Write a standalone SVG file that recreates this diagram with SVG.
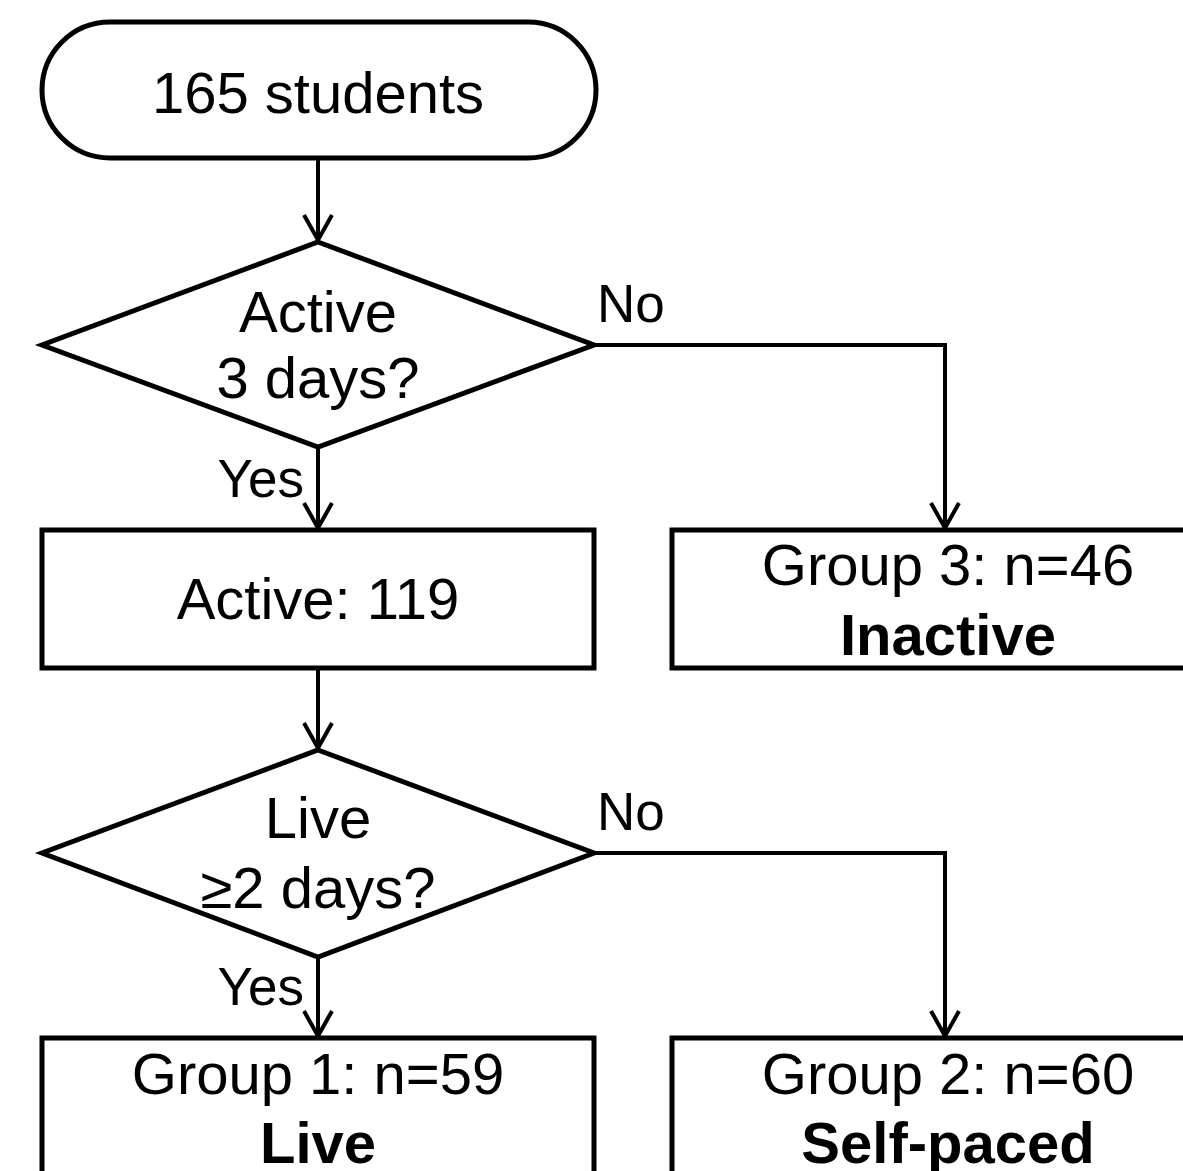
<svg xmlns="http://www.w3.org/2000/svg" width="1183" height="1171" viewBox="0 0 1183 1171">
  <style>
    .shape { fill: #ffffff; stroke: #000000; stroke-width: 5; }
    .conn { fill: none; stroke: #000000; stroke-width: 4; }
    text { font-family: "Liberation Sans", Arial, sans-serif; font-size: 58px; fill: #000000; }
    .lbl { font-size: 53px; }
    .c { text-anchor: middle; }
    .b { font-weight: bold; }
  </style>
  <defs>
    <marker id="arr" markerUnits="userSpaceOnUse" viewBox="-30 -18 34 36" markerWidth="34" markerHeight="36" refX="0" refY="0" orient="auto">
      <path d="M-25,-14 L0,0 L-25,14" fill="none" stroke="#000" stroke-width="4"/>
    </marker>
  </defs>
  <rect width="1183" height="1171" fill="#ffffff"/>

  <g id="connectors">
    <path class="conn" d="M318,158 L318,240" marker-end="url(#arr)"/>
    <path class="conn" d="M318,447 L318,528" marker-end="url(#arr)"/>
    <path class="conn" d="M594,345 L945,345 L945,528" marker-end="url(#arr)"/>
    <path class="conn" d="M318,668 L318,748" marker-end="url(#arr)"/>
    <path class="conn" d="M318,957 L318,1036" marker-end="url(#arr)"/>
    <path class="conn" d="M594,853 L945,853 L945,1036" marker-end="url(#arr)"/>
    <text class="lbl" x="304" y="497" text-anchor="end">Yes</text>
    <text class="lbl" x="597" y="322">No</text>
    <text class="lbl" x="304" y="1005" text-anchor="end">Yes</text>
    <text class="lbl" x="597" y="830">No</text>
  </g>

  <g id="start">
    <rect class="shape" x="42" y="22" width="554" height="136" rx="68" ry="68"/>
    <text class="c" x="318" y="113">165 students</text>
  </g>

  <g id="decision1">
    <polygon class="shape" points="318,242 594,345 318,447 42,345"/>
    <text class="c" x="318" y="332">Active</text>
    <text class="c" x="318" y="398">3 days?</text>
  </g>

  <g id="active">
    <rect class="shape" x="42" y="530" width="552" height="138"/>
    <text class="c" x="318" y="619">Active: 119</text>
  </g>

  <g id="group3">
    <rect class="shape" x="672" y="530" width="552" height="138"/>
    <text class="c" x="948" y="585">Group 3: n=46</text>
    <text class="c b" x="948" y="655">Inactive</text>
  </g>

  <g id="decision2">
    <polygon class="shape" points="318,750 594,853 318,957 42,853"/>
    <text class="c" x="318" y="838">Live</text>
    <text class="c" x="318" y="908">≥2 days?</text>
  </g>

  <g id="group1">
    <rect class="shape" x="42" y="1038" width="552" height="160"/>
    <text class="c" x="318" y="1094">Group 1: n=59</text>
    <text class="c b" x="318" y="1163">Live</text>
  </g>

  <g id="group2">
    <rect class="shape" x="672" y="1038" width="552" height="160"/>
    <text class="c" x="948" y="1094">Group 2: n=60</text>
    <text class="c b" x="948" y="1163">Self-paced</text>
  </g>
</svg>
